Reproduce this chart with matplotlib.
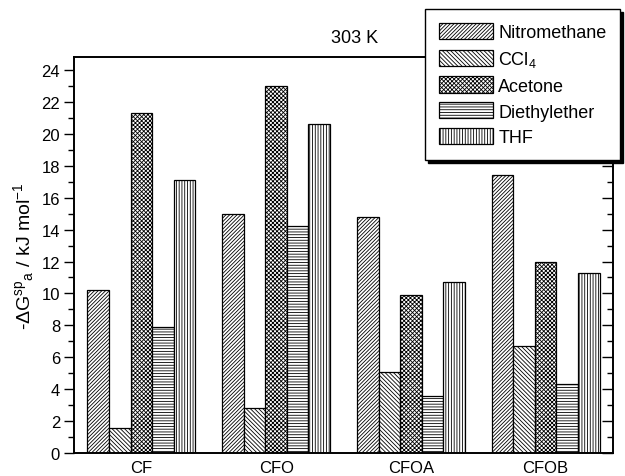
import numpy as np
import matplotlib.pyplot as plt
from matplotlib.ticker import MultipleLocator

plt.rcParams['font.family'] = ['Liberation Sans', 'DejaVu Sans']
plt.rcParams['mathtext.fontset'] = 'custom'
plt.rcParams['mathtext.rm'] = 'Liberation Sans'
plt.rcParams['mathtext.it'] = 'Liberation Sans'
plt.rcParams['hatch.linewidth'] = 0.6

samples = ["CF", "CFO", "CFOA", "CFOB"]
solvents = ["Nitromethane", "CCl$_4$", "Acetone", "Diethylether", "THF"]
hatches = ["/////////", "\\\\\\\\\\\\\\\\", "xxxxxxxx", "------", "||||||"]

nitromethane = [10.2, 15.0, 14.8, 17.4]
ccl4 = [1.6, 2.8, 5.1, 6.7]
acetone = [21.3, 23.0, 9.9, 12.0]
diethylether = [7.9, 14.2, 3.6, 4.3]
thf = [17.1, 20.6, 10.7, 11.3]
values = [nitromethane, ccl4, acetone, diethylether, thf]

fig = plt.figure(figsize=(6.25, 4.77), dpi=100)
ax = fig.add_axes([0.1184, 0.048, 0.8625, 0.830])

x = np.arange(1, len(samples) + 1)
w = 0.16
bars = []
for i, vals in enumerate(values):
    b = ax.bar(x - 0.4 + w * (i + 0.5), vals, width=w, color="white",
               edgecolor="black", linewidth=0.9, hatch=hatches[i], label=solvents[i])
    bars.append(b)

ax.set_xlim(0.5, 4.5)
ax.set_ylim(0, 24.8)
ax.set_xticks(x)
ax.set_xticklabels(samples, fontsize=12)
ax.tick_params(axis="x", length=0, pad=5)
ax.yaxis.set_major_locator(MultipleLocator(2))
ax.yaxis.set_minor_locator(MultipleLocator(1))
ax.tick_params(axis="y", which="major", direction="out", length=7, width=1, labelsize=12, pad=3)
ax.tick_params(axis="y", which="minor", direction="out", length=4, width=1)

ax2 = ax.twinx()
ax2.set_ylim(ax.get_ylim())
ax2.yaxis.set_major_locator(MultipleLocator(2))
ax2.yaxis.set_minor_locator(MultipleLocator(1))
ax2.tick_params(axis="y", which="major", direction="in", length=8, width=1, labelright=False)
ax2.tick_params(axis="y", which="minor", direction="in", length=4, width=1)

for a in (ax, ax2):
    for s in a.spines.values():
        s.set_linewidth(1.2)

ax.set_ylabel(r"-$\Delta$G$^{\rm sp}$$_{\rm a}$ / kJ mol$^{-1}$", fontsize=14, labelpad=4)
fig.text(0.568, 0.92, "303 K", fontsize=13, ha="center", va="center")

leg = fig.legend(handles=bars, loc="upper left", bbox_to_anchor=(0.68, 0.978),
                 fontsize=13, frameon=True, fancybox=False, shadow={"color": "black", "alpha": 1},
                 edgecolor="black", handlelength=3.0, handleheight=1.0,
                 labelspacing=0.42, handletextpad=0.3, borderpad=0.75, borderaxespad=0)
leg.get_frame().set_linewidth(1.0)
leg.set_zorder(10)

fig.savefig("out.png", dpi=100)
